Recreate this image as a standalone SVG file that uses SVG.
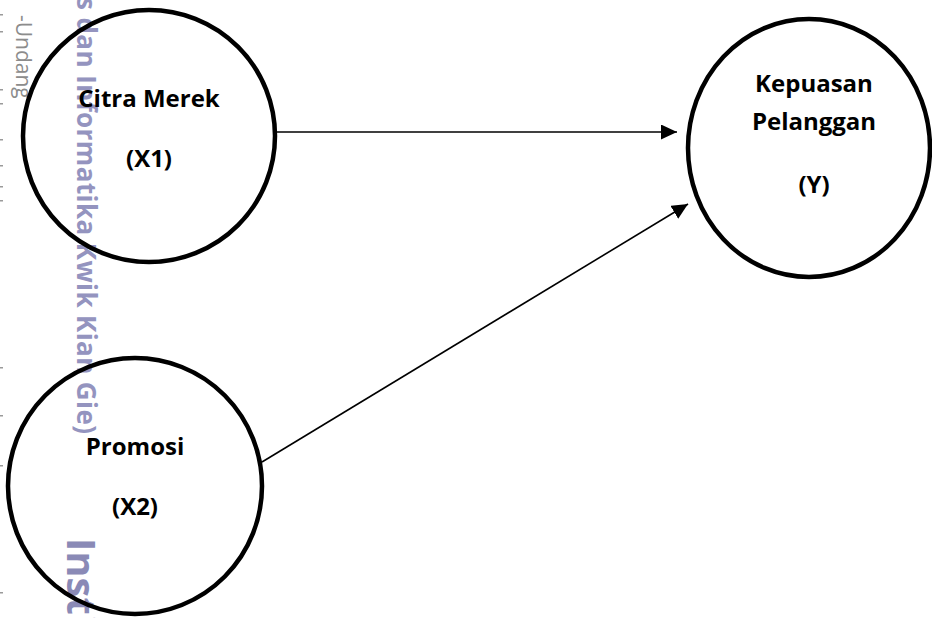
<svg xmlns="http://www.w3.org/2000/svg" width="932" height="618" viewBox="0 0 932 618">
<style>
.node{fill:none;stroke:#000;stroke-width:4.5}
.lbl{font-family:"Open Sans","Liberation Sans",sans-serif;font-weight:bold;font-size:24px;fill:#000;text-anchor:middle}
.conn{stroke:#000;stroke-width:1.6;fill:none;marker-end:url(#arr)}
.wm{font-family:"Open Sans","Liberation Sans",sans-serif;fill:#9494bf}
.tick{fill:#9a9a9a}
</style>
<defs>
<marker id="arr" markerUnits="userSpaceOnUse" markerWidth="17" markerHeight="16" refX="16" refY="7.5" orient="auto">
<path d="M0,0 L16,7.5 L0,15 z" fill="#000"/>
</marker>
</defs>
<rect width="932" height="618" fill="#fff"/>
<g id="watermark">
<rect class="tick" x="0" y="14" width="3" height="1.5"/>
<rect class="tick" x="0" y="31" width="3" height="1.5"/>
<rect class="tick" x="0" y="89" width="3" height="1.5"/>
<rect class="tick" x="0" y="103" width="3" height="1.5"/>
<rect class="tick" x="0" y="139" width="3" height="1.5"/>
<rect class="tick" x="0" y="165" width="3" height="1.5"/>
<rect class="tick" x="0" y="186" width="3" height="1.5"/>
<rect class="tick" x="0" y="200" width="3" height="1.5"/>
<rect class="tick" x="0" y="367" width="3" height="1.5"/>
<rect class="tick" x="0" y="415" width="3" height="1.5"/>
<rect class="tick" x="0" y="465" width="3" height="1.5"/>
<rect class="tick" x="0" y="592" width="3" height="1.5"/>
<text transform="translate(16,15) rotate(90)" font-family="'Open Sans','Liberation Sans',sans-serif" font-size="21" fill="#8c8c8c">-Undang</text>
<text class="wm" transform="translate(77,-3) rotate(90)" font-size="26" font-weight="bold" textLength="437" lengthAdjust="spacing">s dan Informatika Kwik Kian Gie)</text>
<text class="wm" transform="translate(67,538) rotate(90)" font-size="40" font-weight="bold" style="fill:#8a8ab6">Insti</text>
</g>
<g id="connectors">
<line class="conn" x1="275" y1="132" x2="677" y2="132"/>
<line class="conn" x1="262" y1="462" x2="688" y2="204"/>
</g>
<g id="citra-merek">
<ellipse class="node" cx="149" cy="136" rx="126" ry="126"/>
<text class="lbl" x="149" y="107">Citra Merek</text>
<text class="lbl" x="149" y="167">(X1)</text>
</g>
<g id="promosi">
<ellipse class="node" cx="135" cy="486" rx="127" ry="128"/>
<text class="lbl" x="135" y="455">Promosi</text>
<text class="lbl" x="135" y="515">(X2)</text>
</g>
<g id="kepuasan">
<ellipse class="node" cx="809" cy="148" rx="121" ry="129"/>
<text class="lbl" x="814" y="92">Kepuasan</text>
<text class="lbl" x="814" y="130">Pelanggan</text>
<text class="lbl" x="814" y="193">(Y)</text>
</g>
</svg>
